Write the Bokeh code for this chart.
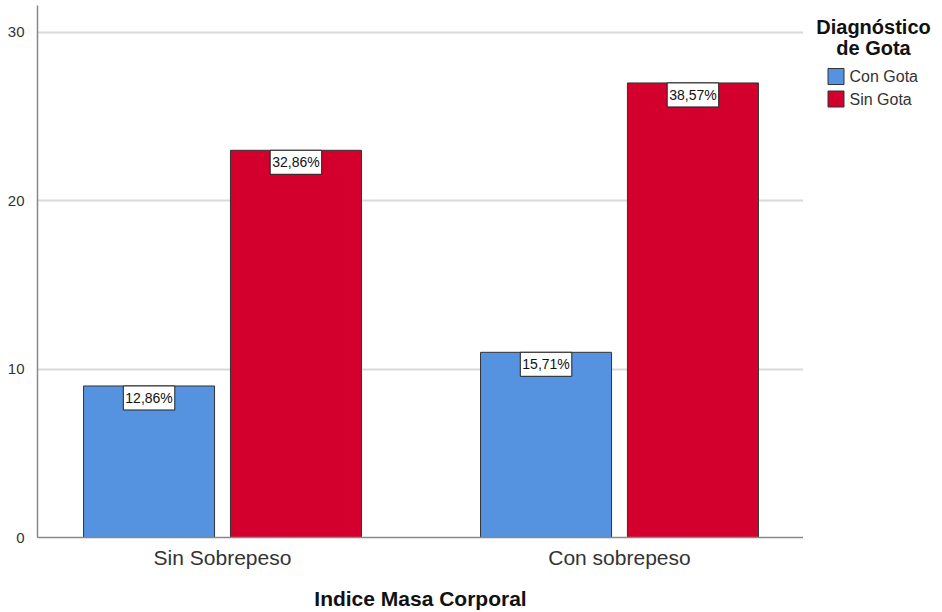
from bokeh.plotting import figure
from bokeh.models import ColumnDataSource, Label, Range1d, FixedTicker
from bokeh.core.properties import value
from bokeh.transform import dodge
from bokeh.layouts import row
from bokeh.embed import file_html
from bokeh.resources import INLINE

categories = ["Sin Sobrepeso", "Con sobrepeso"]
series = ["Con Gota", "Sin Gota"]
con_gota = [9, 11]
sin_gota = [23, 27]
con_gota_pct = ["12,86%", "15,71%"]
sin_gota_pct = ["32,86%", "38,57%"]
y_ticks = [0, 10, 20, 30]
legend_title_lines = ["Diagnóstico", "de Gota"]
colors = ["#5592e0", "#d3002d"]

FONT = "Liberation Sans"
xs = list(range(len(categories)))

src = ColumnDataSource(dict(x=xs, con=con_gota, sin=sin_gota,
                            con_pct=con_gota_pct, sin_pct=sin_gota_pct))

p = figure(width=803, height=612, output_backend="svg", toolbar_location=None,
           x_range=Range1d(-0.466, 1.4635), y_range=Range1d(0, 31.6),
           min_border_left=37, min_border_right=0, min_border_top=5,
           min_border_bottom=72)
p.outline_line_color = None
p.xgrid.grid_line_color = None
p.ygrid.grid_line_color = "#d9d9d9"
p.ygrid.grid_line_width = 2
p.ygrid.ticker = FixedTicker(ticks=y_ticks[1:])

OFF = 0.185
W = 0.33
p.vbar(x=dodge("x", -OFF), top="con", width=W, source=src,
       fill_color=colors[0], line_color="#333333", line_width=1)
p.vbar(x=dodge("x", OFF), top="sin", width=W, source=src,
       fill_color=colors[1], line_color="#333333", line_width=1)

for i in xs:
    for off, val, txt in ((-OFF, con_gota[i], con_gota_pct[i]),
                          (OFF, sin_gota[i], sin_gota_pct[i])):
        p.add_layout(Label(x=i + off, y=val, text=txt, text_align="center",
                           text_baseline="top", y_offset=0,
                           text_font=FONT, text_font_size="14px",
                           text_color="#111111",
                           background_fill_color="white",
                           border_line_color="#222222", border_line_width=1,
                           padding=(2, 4)))

# axes
p.yaxis.ticker = FixedTicker(ticks=y_ticks)
p.xaxis.ticker = FixedTicker(ticks=xs)
p.xaxis.major_label_overrides = {i: c for i, c in zip(xs, categories)}
for ax in (p.xaxis[0], p.yaxis[0]):
    ax.axis_line_color = "#888888"
    ax.axis_line_width = 1.5
    ax.major_tick_line_color = None
    ax.minor_tick_line_color = None
    ax.major_label_text_font = FONT
    ax.major_label_text_color = "#333333"
p.yaxis.major_label_text_font_size = "15px"
p.yaxis.major_label_standoff = 7
p.xaxis.major_label_text_font_size = "21px"
p.xaxis.major_label_standoff = 2
p.xaxis.axis_label = "Indice Masa Corporal"
p.xaxis.axis_label_text_font = FONT
p.xaxis.axis_label_text_font_size = "21px"
p.xaxis.axis_label_text_font_style = "bold"
p.xaxis.axis_label_text_color = "#111111"
p.xaxis.axis_label_standoff = 15

# legend panel (its frame aligns with the main frame; y downward, pixel-like)
lg = figure(width=139, height=612, output_backend="svg", toolbar_location=None,
            x_range=Range1d(0, 139), y_range=Range1d(537, 5),
            min_border=0)
lg.axis.visible = False
lg.grid.visible = False
lg.outline_line_color = None

lg.text(x=[70, 70], y=[26, 47], text=legend_title_lines, text_align="center",
        text_baseline="alphabetic", text_font=value(FONT),
        text_font_size="20px", text_font_style="bold", text_color="#111111")

leg_src = ColumnDataSource(dict(label=series, color=colors,
                                y=[76 + 22.5 * k for k in range(len(series))]))
lg.rect(x=32.5, y="y", width=16, height=16, source=leg_src,
        fill_color="color", line_color="#333333", line_width=1)
lg.text(x=46, y="y", text="label", source=leg_src, text_baseline="middle",
        text_font=value(FONT), text_font_size="16px", text_color="#333333")

layout = row(p, lg, spacing=0)
open("out.html", "w").write(file_html(layout, INLINE))
